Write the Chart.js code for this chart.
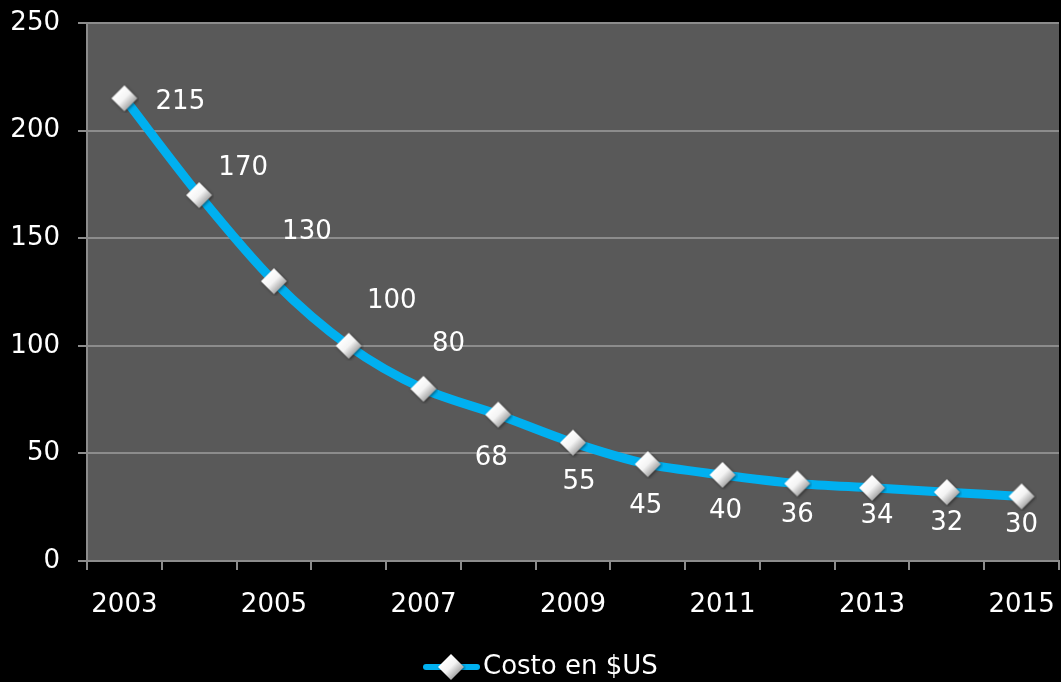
<!DOCTYPE html>
<html lang="es">
<head>
    <meta charset="UTF-8">
    <title>Costo en $US</title>
    <script src="https://cdn.jsdelivr.net/npm/chart.js"></script>
    <style>
        html, body { margin: 0; padding: 0; background: #000; }
        #wrap { width: 1061px; height: 682px; }
    </style>
</head>
<body>
    <div id="wrap"><canvas id="costChart" width="1061" height="682"></canvas></div>
    <script>
        const years = ['2003', '2004', '2005', '2006', '2007', '2008', '2009', '2010', '2011', '2012', '2013', '2014', '2015'];
        const cost = [215, 170, 130, 100, 80, 68, 55, 45, 40, 36, 34, 32, 30];
        const yTicks = [0, 50, 100, 150, 200, 250];

        const FONT = 'DejaVu Sans, Verdana, sans-serif';

        // where each value label sits relative to its point (Excel placed them by hand)
        const labelShift = [
            [56, 4], [44, -27], [33, -49], [43, -45], [25, -45],
            [-7, 44], [6, 40], [-2, 42], [3, 36], [0, 32], [5, 28], [0, 31], [0, 29]
        ];

        function makeDiamond(r) {
            const c = document.createElement('canvas');
            const s = r * 2 + 4;
            c.width = s; c.height = s;
            const g = c.getContext('2d');
            const m = s / 2;
            g.shadowColor = 'rgba(0,0,0,0.5)';
            g.shadowBlur = 3;
            g.shadowOffsetX = 1;
            g.shadowOffsetY = 1;
            const grad = g.createLinearGradient(m - r * 0.5, m - r * 0.5, m + r * 0.6, m + r * 0.6);
            grad.addColorStop(0, '#ffffff');
            grad.addColorStop(0.45, '#f4f4f4');
            grad.addColorStop(1, '#9a9a9a');
            g.fillStyle = grad;
            g.beginPath();
            g.moveTo(m, m - r);
            g.lineTo(m + r, m);
            g.lineTo(m, m + r);
            g.lineTo(m - r, m);
            g.closePath();
            g.fill();
            return c;
        }
        const diamond = makeDiamond(13);

        const plotBg = {
            id: 'plotBg',
            beforeDraw(chart) {
                const a = chart.chartArea;
                const ctx = chart.ctx;
                ctx.save();
                ctx.fillStyle = '#595959';
                ctx.fillRect(a.left, a.top, a.right - a.left, a.bottom - a.top);
                ctx.restore();
            }
        };

        const valueLabels = {
            id: 'valueLabels',
            afterDatasetsDraw(chart) {
                const ctx = chart.ctx;
                const pts = chart.getDatasetMeta(0).data;
                ctx.save();
                ctx.font = '26px ' + FONT;
                ctx.fillStyle = '#ffffff';
                ctx.textAlign = 'center';
                ctx.textBaseline = 'middle';
                pts.forEach((p, i) => {
                    const sh = labelShift[i] || [0, 30];
                    ctx.fillText(String(cost[i]), p.x + sh[0], p.y + sh[1]);
                });
                ctx.restore();
            }
        };

        const lineLegend = {
            id: 'lineLegend',
            afterDraw(chart) {
                const ctx = chart.ctx;
                const y = 667;
                ctx.save();
                ctx.strokeStyle = '#00b0f0';
                ctx.lineWidth = 6;
                ctx.lineCap = 'round';
                ctx.beginPath();
                ctx.moveTo(426, y);
                ctx.lineTo(477, y);
                ctx.stroke();
                ctx.drawImage(diamond, 451 - diamond.width / 2, y - diamond.height / 2);
                ctx.font = '26px ' + FONT;
                ctx.fillStyle = '#ffffff';
                ctx.textBaseline = 'middle';
                ctx.fillText(chart.data.datasets[0].label, 483, y);
                ctx.restore();
            }
        };

        new Chart(document.getElementById('costChart'), {
            type: 'line',
            data: {
                labels: years,
                datasets: [{
                    label: 'Costo en $US',
                    data: cost,
                    borderColor: '#00b0f0',
                    borderWidth: 9,
                    tension: 0.3,
                    pointStyle: diamond,
                    pointRadius: 13,
                    fill: false
                }]
            },
            options: {
                responsive: false,
                animation: false,
                devicePixelRatio: 1,
                layout: { autoPadding: false, padding: { top: 23, right: 2, left: 0, bottom: 0 } },
                plugins: {
                    legend: { display: false },
                    tooltip: { enabled: false }
                },
                scales: {
                    x: {
                        offset: true,
                        grid: {
                            offset: true,
                            drawOnChartArea: false,
                            color: '#8c8c8c',
                            lineWidth: 2,
                            tickLength: 9
                        },
                        border: { color: '#8c8c8c', width: 2 },
                        ticks: {
                            autoSkip: false,
                            maxRotation: 0,
                            color: '#ffffff',
                            font: { family: FONT, size: 26 },
                            padding: 20,
                            callback: (v, i) => (i % 2 === 0 ? years[i] : '')
                        },
                        afterFit(s) {
                            s.height = 121;
                            s.paddingLeft = 0;
                            s.paddingRight = 0;
                        }
                    },
                    y: {
                        min: 0,
                        max: 250,
                        afterBuildTicks(s) { s.ticks = yTicks.map(v => ({ value: v })); },
                        grid: {
                            color: '#8c8c8c',
                            lineWidth: 2,
                            tickLength: 9
                        },
                        border: { color: '#8c8c8c', width: 2 },
                        ticks: {
                            color: '#ffffff',
                            font: { family: FONT, size: 26 },
                            padding: 18
                        },
                        afterFit(s) {
                            s.width = 87;
                            s.paddingTop = 0;
                            s.paddingBottom = 0;
                        }
                    }
                }
            },
            plugins: [plotBg, valueLabels, lineLegend]
        });
    </script>
</body>
</html>
